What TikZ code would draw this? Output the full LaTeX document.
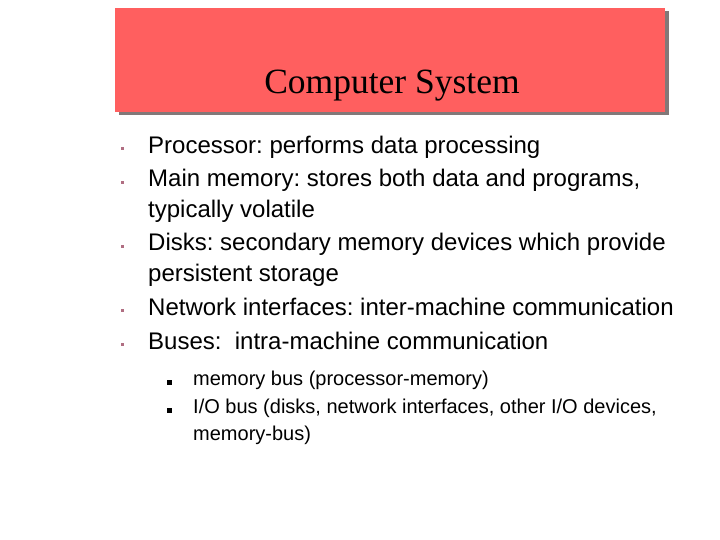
\documentclass[tikz,border=0pt]{standalone}
\usepackage{fontspec}
\setmainfont{Liberation Sans}
\newfontfamily\titlefont{Liberation Serif}
\definecolor{titlered}{RGB}{255,95,95}
\definecolor{shadowgray}{RGB}{130,120,120}
\definecolor{bulletpink}{RGB}{176,110,130}
\frenchspacing
\begin{document}
\begin{tikzpicture}[x=1pt,y=-1pt,
  body/.style={anchor=base west,inner sep=0pt,font=\fontsize{24}{28}\selectfont\frenchspacing},
  subbody/.style={anchor=base west,inner sep=0pt,font=\fontsize{20}{24}\selectfont\frenchspacing},
  bulletone/.style={fill=bulletpink,draw=none,minimum size=3pt,inner sep=0pt},
  bullettwo/.style={fill=black,draw=none,minimum size=4.5pt,inner sep=0pt}]
\useasboundingbox[fill=white] (0,0) rectangle (720,540);
% title box
\fill[shadowgray] (118.5,11.5) rectangle (668.5,115.5);
\fill[titlered] (115,8) rectangle (665,112);
\node[anchor=base,inner sep=0pt,font=\titlefont\fontsize{35.5}{40}\selectfont] (title) at (392,94) {Computer System};
% level-1 bullets and text
\node[bulletone] (b1) at (122.5,149) {};
\node[body] (t1) at (148,153.5) {Processor: performs data processing};
\node[bulletone] (b2) at (122.5,182.5) {};
\node[body] (t2) at (148,187) {Main memory: stores both data and programs,};
\node[body] (t2b) at (148,217.5) {typically volatile};
\node[bulletone] (b3) at (122.5,246.5) {};
\node[body] (t3) at (148,251) {Disks: secondary memory devices which provide};
\node[body] (t3b) at (148,281.5) {persistent storage};
\node[bulletone] (b4) at (122.5,310.5) {};
\node[body] (t4) at (148,315) {Network interfaces: inter-machine communication};
\node[bulletone] (b5) at (122.5,344.5) {};
\node[body] (t5) at (148,349) {Buses:~ intra-machine communication};
% level-2 bullets and text
\node[bullettwo] (s1) at (169.5,382.5) {};
\node[subbody] (u1) at (193,385.5) {memory bus (processor-memory)};
\node[bullettwo] (s2) at (169.5,410.5) {};
\node[subbody] (u2) at (193,413.5) {I/O bus (disks, network interfaces, other I/O devices,};
\node[subbody] (u2b) at (193,440.5) {memory-bus)};
\end{tikzpicture}
\end{document}
